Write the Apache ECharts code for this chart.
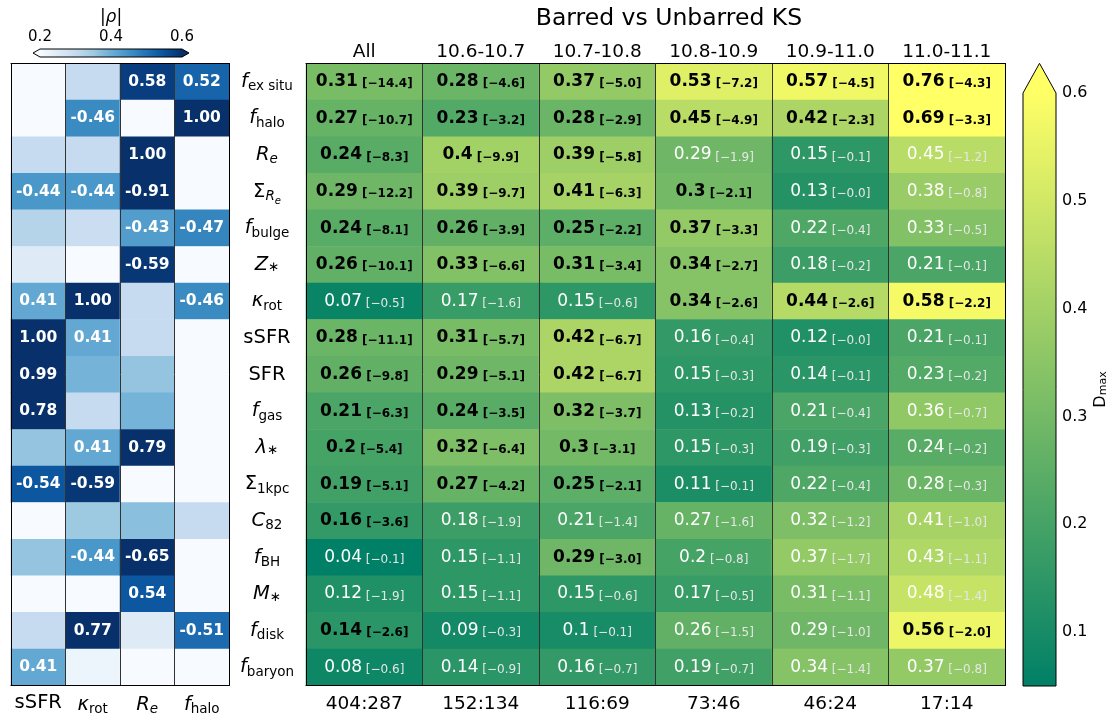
<!DOCTYPE html>
<html>
<head>
<meta charset="utf-8">
<title>Barred vs Unbarred KS</title>
<script src="https://cdn.jsdelivr.net/npm/echarts@6/dist/echarts.min.js"></script>
<style>
  html, body { margin: 0; padding: 0; background: #fff; }
  #chart { width: 1115px; height: 717px; }
</style>
</head>
<body>
<div id="chart"></div>
<script>
// row labels, written as rich text (mathtext look-alike)
const rowLabels = [
  '{it|f}{sub|ex situ}', '{it|f}{sub|halo}', '{it|R}{subi|e}', '{rm|Σ}{subi|R}{ssi|e}',
  '{it|f}{sub|bulge}', '{it|Z}{star|∗}', '{it|κ}{sub|rot}', '{rm|sSFR}', '{rm|SFR}',
  '{it|f}{sub|gas}', '{it|λ}{star|∗}', '{rm|Σ}{sub|1kpc}', '{it|C}{sub|82}',
  '{it|f}{sub|BH}', '{it|M}{star|∗}', '{it|f}{sub|disk}', '{it|f}{sub|baryon}'
]
const corrCols = ['{rm|sSFR}', '{it|κ}{sub|rot}', '{it|R}{subi|e}', '{it|f}{sub|halo}']
const binCols = ['All', '10.6-10.7', '10.7-10.8', '10.8-10.9', '10.9-11.0', '11.0-11.1']
const countLabels = ['404:287', '152:134', '116:69', '73:46', '46:24', '17:14']

// correlation coefficients (left panel), one array per column
const rhoSSFR = [0.1, 0.1, 0.3, -0.44, 0.32, 0.25, 0.41, 1.00, 0.99, 0.78, 0.36, -0.54, 0.1, 0.36, 0.1, 0.3, 0.41]
const rhoKrot = [0.3, -0.46, 0.3, -0.44, 0.29, 0.1, 1.00, 0.41, 0.39, 0.3, 0.41, -0.59, 0.35, -0.44, 0.1, 0.77, 0.22]
const rhoRe = [0.58, 0.1, 1.00, -0.91, -0.43, -0.59, 0.3, 0.3, 0.36, 0.39, 0.79, 0.1, 0.37, -0.65, 0.54, 0.25, 0.1]
const rhoFhalo = [0.52, 1.00, 0.1, 0.1, -0.47, 0.1, -0.46, 0.1, 0.1, 0.1, 0.1, 0.1, 0.3, 0.1, 0.1, -0.51, 0.1]

// KS D_max per mass bin
const dAll = [0.31, 0.27, 0.24, 0.29, 0.24, 0.26, 0.07, 0.28, 0.26, 0.21, 0.2, 0.19, 0.16, 0.04, 0.12, 0.14, 0.08]
const d1067 = [0.28, 0.23, 0.4, 0.39, 0.26, 0.33, 0.17, 0.31, 0.29, 0.24, 0.32, 0.27, 0.18, 0.15, 0.15, 0.09, 0.14]
const d1078 = [0.37, 0.28, 0.39, 0.41, 0.25, 0.31, 0.15, 0.42, 0.42, 0.32, 0.3, 0.25, 0.21, 0.29, 0.15, 0.1, 0.16]
const d1089 = [0.53, 0.45, 0.29, 0.3, 0.37, 0.34, 0.34, 0.16, 0.15, 0.13, 0.15, 0.11, 0.27, 0.2, 0.17, 0.26, 0.19]
const d1090 = [0.57, 0.42, 0.15, 0.13, 0.22, 0.18, 0.44, 0.12, 0.14, 0.21, 0.19, 0.22, 0.32, 0.37, 0.31, 0.29, 0.34]
const d1101 = [0.76, 0.69, 0.45, 0.38, 0.33, 0.21, 0.58, 0.21, 0.23, 0.36, 0.24, 0.28, 0.41, 0.43, 0.48, 0.56, 0.37]

// log10 p-values (the bracketed numbers)
const pAll = [-14.4, -10.7, -8.3, -12.2, -8.1, -10.1, -0.5, -11.1, -9.8, -6.3, -5.4, -5.1, -3.6, -0.1, -1.9, -2.6, -0.6]
const p1067 = [-4.6, -3.2, -9.9, -9.7, -3.9, -6.6, -1.6, -5.7, -5.1, -3.5, -6.4, -4.2, -1.9, -1.1, -1.1, -0.3, -0.9]
const p1078 = [-5.0, -2.9, -5.8, -6.3, -2.2, -3.4, -0.6, -6.7, -6.7, -3.7, -3.1, -2.1, -1.4, -3.0, -0.6, -0.1, -0.7]
const p1089 = [-7.2, -4.9, -1.9, -2.1, -3.3, -2.7, -2.6, -0.4, -0.3, -0.2, -0.3, -0.1, -1.6, -0.8, -0.5, -1.5, -0.7]
const p1090 = [-4.5, -2.3, -0.1, -0.0, -0.4, -0.2, -2.6, -0.0, -0.1, -0.4, -0.3, -0.4, -1.2, -1.7, -1.1, -1.0, -1.4]
const p1101 = [-4.3, -3.3, -1.2, -0.8, -0.5, -0.1, -2.2, -0.1, -0.2, -0.7, -0.2, -0.3, -1.0, -1.1, -1.4, -2.0, -0.8]

// colour scale ranges
const rhoMin = 0.2, rhoMax = 0.6
const dMin = 0.05, dMax = 0.6
const rhoTicks = [0.2, 0.4, 0.6]
const dTicks = [0.1, 0.2, 0.3, 0.4, 0.5, 0.6]

const blues = ['#f7fbff', '#deebf7', '#c6dbef', '#9ecae1', '#6baed6', '#4292c6', '#2171b5', '#08519c', '#08306b']
const summer = ['#008066', '#ffff66']
const FONT = 'DejaVu Sans'

const rhoCols = [rhoSSFR, rhoKrot, rhoRe, rhoFhalo]
const dCols = [dAll, d1067, d1078, d1089, d1090, d1101]
const pCols = [pAll, p1067, p1078, p1089, p1090, p1101]

let leftData = []
rhoCols.forEach((col, c) => {
  col.forEach((v, r) => {
    leftData.push([c, r, v, Math.abs(v)])
  })
})
let rightData = []
dCols.forEach((col, c) => {
  col.forEach((v, r) => {
    rightData.push([c, r, v, pCols[c][r]])
  })
})

const mathRich = {
  it: { fontStyle: 'italic', fontSize: 19.5, color: '#000' },
  rm: { fontSize: 19.5, color: '#000' },
  sub: { fontSize: 13.5, color: '#000', padding: [10, 0, 0, 0] },
  subi: { fontSize: 13.5, fontStyle: 'italic', color: '#000', padding: [10, 0, 0, 0] },
  ssi: { fontSize: 10, fontStyle: 'italic', color: '#000', padding: [20, 0, 0, 0] },
  star: { fontSize: 13.5, color: '#000', padding: [6, 0, 0, 0] }
}

function gradStops(colors) {
  return colors.map((c, i) => ({ offset: i / (colors.length - 1), color: c }))
}

const chart = echarts.init(document.getElementById('chart'))

const option = {
  animation: false,
  textStyle: { fontFamily: FONT },
  title: {
    text: 'Barred vs Unbarred KS',
    left: 664,
    top: 2,
    textAlign: 'center',
    textStyle: { fontFamily: FONT, fontSize: 23.5, fontWeight: 'normal', color: '#000' }
  },
  grid: [
    { left: 11, top: 63.5, width: 218, height: 622 },
    { left: 306, top: 63.5, width: 699, height: 622 },
    { left: 1023, top: 93, width: 33, height: 593 },
    { left: 40, top: 49, width: 142, height: 8 }
  ],
  visualMap: [
    { type: 'continuous', show: false, seriesIndex: 0, dimension: 3, min: rhoMin, max: rhoMax, inRange: { color: blues } },
    { type: 'continuous', show: false, seriesIndex: 1, dimension: 2, min: dMin, max: dMax, inRange: { color: summer } }
  ],
  xAxis: [
    {
      gridIndex: 0, type: 'category', position: 'bottom', data: corrCols, z: 5,
      axisLine: { lineStyle: { color: '#000' } },
      axisTick: { alignWithLabel: true, length: 4, lineStyle: { color: '#000' } },
      axisLabel: { margin: 7, interval: 0, rich: mathRich },
      splitLine: { show: true, interval: 0, lineStyle: { color: '#333' } }
    },
    {
      gridIndex: 0, type: 'category', position: 'top', data: corrCols, z: 5,
      axisLine: { lineStyle: { color: '#000' } }, axisTick: { show: false }, axisLabel: { show: false }
    },
    {
      gridIndex: 1, type: 'category', position: 'top', data: binCols, z: 5,
      axisLine: { lineStyle: { color: '#000' } }, axisTick: { show: false },
      axisLabel: { margin: 2, interval: 0, fontSize: 18.5, color: '#000' },
      splitLine: { show: true, interval: 0, lineStyle: { color: '#333' } }
    },
    {
      gridIndex: 1, type: 'category', position: 'bottom', data: countLabels, z: 5,
      axisLine: { lineStyle: { color: '#000' } },
      axisTick: { alignWithLabel: true, length: 4, lineStyle: { color: '#000' } },
      axisLabel: { margin: 9, interval: 0, fontSize: 18.5, color: '#000' }
    },
    { gridIndex: 2, type: 'value', min: 0, max: 1, show: false },
    {
      gridIndex: 3, type: 'value', position: 'top', min: rhoMin, max: rhoMax,
      axisLine: { show: false }, splitLine: { show: false },
      axisTick: { customValues: rhoTicks, length: 4, lineStyle: { color: '#000' } },
      axisLabel: { customValues: rhoTicks, margin: 4, fontSize: 15, color: '#000', formatter: v => v.toFixed(1) },
      name: '{rm||}{it|ρ}{rm||}', nameLocation: 'middle', nameGap: 23,
      nameTextStyle: { rich: { rm: { fontSize: 17, color: '#000' }, it: { fontSize: 17, fontStyle: 'italic', color: '#000' } } }
    }
  ],
  yAxis: [
    {
      gridIndex: 0, type: 'category', position: 'right', inverse: true, data: rowLabels, z: 5,
      axisLine: { lineStyle: { color: '#000' } },
      axisTick: { alignWithLabel: true, length: 4, lineStyle: { color: '#000' } },
      axisLabel: { margin: 38, align: 'center', interval: 0, rich: mathRich }
    },
    {
      gridIndex: 0, type: 'category', position: 'left', inverse: true, data: rowLabels, z: 5,
      axisLine: { lineStyle: { color: '#000' } }, axisTick: { show: false }, axisLabel: { show: false }
    },
    {
      gridIndex: 1, type: 'category', position: 'left', inverse: true, data: rowLabels, z: 5,
      axisLine: { lineStyle: { color: '#000' } },
      axisTick: { alignWithLabel: true, length: 4, lineStyle: { color: '#000' } },
      axisLabel: { show: false }
    },
    {
      gridIndex: 1, type: 'category', position: 'right', inverse: true, data: rowLabels, z: 5,
      axisLine: { lineStyle: { color: '#000' } }, axisTick: { show: false }, axisLabel: { show: false }
    },
    {
      gridIndex: 2, type: 'value', position: 'right', min: dMin, max: dMax,
      axisLine: { show: false }, splitLine: { show: false },
      axisTick: { customValues: dTicks, length: 4, lineStyle: { color: '#000' } },
      axisLabel: { customValues: dTicks, margin: 6, fontSize: 16, color: '#000', formatter: v => v.toFixed(1) },
      name: '{r|D}{s|max}', nameLocation: 'middle', nameRotate: 90, nameGap: 36,
      nameTextStyle: { rich: { r: { fontSize: 16, color: '#000' }, s: { fontSize: 11, color: '#000', padding: [6, 0, 0, 0] } } }
    },
    { gridIndex: 3, type: 'value', min: 0, max: 1, show: false }
  ],
  series: [
    {
      type: 'heatmap', xAxisIndex: 0, yAxisIndex: 0, data: leftData,
      label: {
        show: true, color: '#fff', fontWeight: 'bold', fontSize: 15.5,
        formatter: p => (p.value[3] >= 0.4 ? p.value[2].toFixed(2) : '')
      },
      emphasis: { disabled: true }
    },
    {
      type: 'heatmap', xAxisIndex: 2, yAxisIndex: 2, data: rightData,
      label: {
        show: true,
        formatter: p => {
          let d = String(p.value[2])
          let br = ' [−' + Math.abs(p.value[3]).toFixed(1) + ']'
          return p.value[3] <= -2 ? '{b|' + d + '}{bs|' + br + '}' : '{n|' + d + '}{ns|' + br + '}'
        },
        rich: {
          b: { fontSize: 17, fontWeight: 'bold', color: '#000' },
          bs: { fontSize: 12, fontWeight: 'bold', color: '#000', padding: [5, 0, 0, 0] },
          n: { fontSize: 17, color: '#fff' },
          ns: { fontSize: 12, color: '#e6e6e6', padding: [5, 0, 0, 0] }
        }
      },
      emphasis: { disabled: true }
    },
    {
      // D_max colour bar with the "extend max" triangle
      type: 'custom', xAxisIndex: 4, yAxisIndex: 4, data: [[0]], silent: true, clip: false,
      renderItem: (params, api) => {
        let bl = api.coord([0, dMin])
        let tr = api.coord([1, dMax])
        let x0 = bl[0], x1 = tr[0], yTop = tr[1], yBot = bl[1]
        let apex = yTop - 0.05 * (yBot - yTop)
        return {
          type: 'group',
          children: [
            {
              type: 'rect', shape: { x: x0, y: yTop, width: x1 - x0, height: yBot - yTop },
              style: { fill: new echarts.graphic.LinearGradient(0, 1, 0, 0, gradStops(summer)) }
            },
            {
              type: 'polygon', shape: { points: [[x0, yTop], [(x0 + x1) / 2, apex], [x1, yTop]] },
              style: { fill: summer[1] }
            },
            {
              type: 'polygon', shape: { points: [[x0, yBot], [x0, yTop], [(x0 + x1) / 2, apex], [x1, yTop], [x1, yBot]] },
              style: { fill: null, stroke: '#000', lineWidth: 1 }
            }
          ]
        }
      }
    },
    {
      // |rho| colour bar, extended at both ends
      type: 'custom', xAxisIndex: 5, yAxisIndex: 5, data: [[0]], silent: true, clip: false,
      renderItem: (params, api) => {
        let lb = api.coord([rhoMin, 0])
        let rt = api.coord([rhoMax, 1])
        let x0 = lb[0], x1 = rt[0], yTop = rt[1], yBot = lb[1], ym = (yTop + yBot) / 2
        return {
          type: 'group',
          children: [
            {
              type: 'rect', shape: { x: x0, y: yTop, width: x1 - x0, height: yBot - yTop },
              style: { fill: new echarts.graphic.LinearGradient(0, 0, 1, 0, gradStops(blues)) }
            },
            { type: 'polygon', shape: { points: [[x0, yTop], [x0 - 7, ym], [x0, yBot]] }, style: { fill: blues[0] } },
            { type: 'polygon', shape: { points: [[x1, yTop], [x1 + 7, ym], [x1, yBot]] }, style: { fill: blues[8] } },
            {
              type: 'polygon', shape: { points: [[x0, yTop], [x1, yTop], [x1 + 7, ym], [x1, yBot], [x0, yBot], [x0 - 7, ym]] },
              style: { fill: null, stroke: '#000', lineWidth: 1 }
            }
          ]
        }
      }
    }
  ]
}

chart.setOption(option)
</script>
</body>
</html>
